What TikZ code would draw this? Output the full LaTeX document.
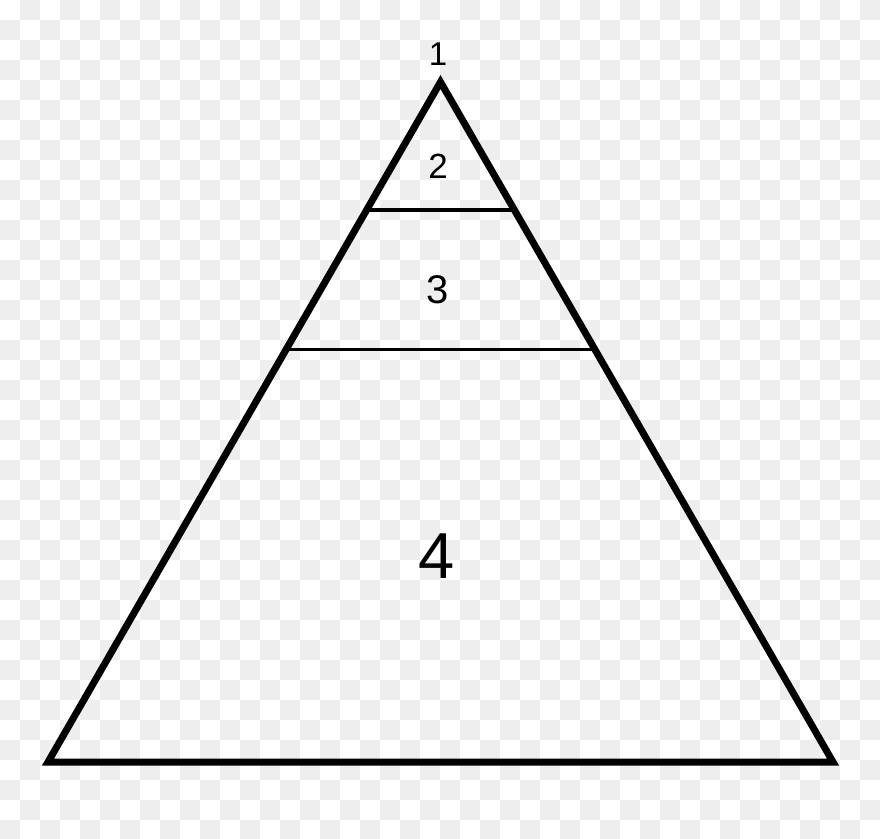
\documentclass[tikz,border=0pt]{standalone}
\usepackage{fontspec}
\setmainfont{Liberation Sans}
\usetikzlibrary{calc}
\definecolor{checker}{RGB}{238,238,238}
\tikzset{
  tri/.style={line width=7pt, line join=miter},
  divider/.style={line width=3.3pt},
  lbl/.style={inner sep=0pt, anchor=center}
}
\begin{document}
\begin{tikzpicture}[x=1pt,y=-1pt]
\useasboundingbox (0,0) rectangle (880,838);
\fill[white] (0,0) rectangle (880,838);
% checkerboard background
\foreach \i in {0,...,43}{
  \foreach \j in {0,...,41}{
    \pgfmathtruncatemacro{\cellpar}{mod(\i+\j,2)}
    \ifnum\cellpar=1
      \fill[checker] (\i*20,\j*20) rectangle ++(20,20);
    \fi
  }
}
\coordinate (apex) at (440.5,82);
\coordinate (bl) at (48,762);
\coordinate (br) at (833,762);
\draw[tri] (apex) -- (br) -- (bl) -- cycle;
\coordinate (l1) at ($(apex)!0.1882!(bl)$);
\coordinate (r1) at ($(apex)!0.1882!(br)$);
\coordinate (l2) at ($(apex)!0.3934!(bl)$);
\coordinate (r2) at ($(apex)!0.3934!(br)$);
\draw[divider] (l1) -- (r1);
\draw[divider] (l2) -- (r2);
\node[lbl, font=\fontsize{33}{33}\selectfont] (t1) at (438,54) {1};
\node[lbl, font=\fontsize{35}{35}\selectfont] (t2) at (438,166) {2};
\node[lbl, font=\fontsize{40}{40}\selectfont] (t3) at (438,289.5) {3};
\node[lbl, font=\fontsize{65}{65}\selectfont] (t4) at (437,556) {4};
\end{tikzpicture}
\end{document}
